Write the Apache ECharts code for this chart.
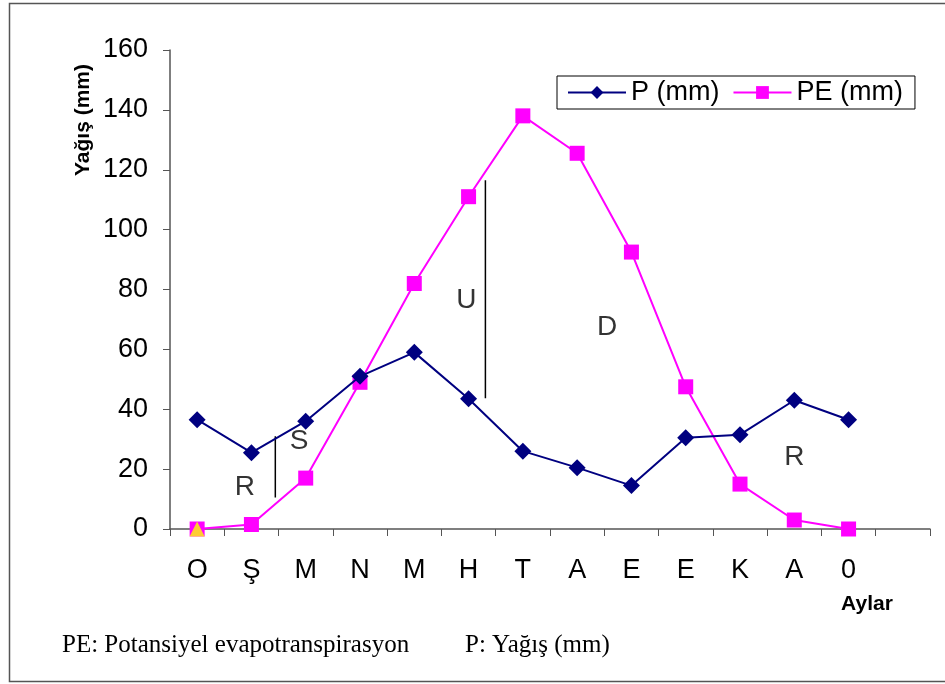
<!DOCTYPE html>
<html>
<head>
<meta charset="utf-8">
<script src="https://cdn.jsdelivr.net/npm/echarts@6/dist/echarts.min.js"></script>
<style>
  html, body { margin: 0; padding: 0; background: #fff; }
  #chart { width: 945px; height: 684px; }
</style>
</head>
<body>
<div id="chart"></div>
<script>
// aylar (son kategori bos)
var months = ['O', 'Ş', 'M', 'N', 'M', 'H', 'T', 'A', 'E', 'E', 'K', 'A', '0', ''];
// yagis P (mm)
var pValues = [36.5, 25.5, 36, 51, 59, 43.5, 26, 20.5, 14.5, 30.5, 31.5, 43, 36.5];
// potansiyel evapotranspirasyon PE (mm)
var peValues = [0, 1.5, 17, 49, 82, 111, 138, 125.5, 92.5, 47.5, 15, 3, 0];
// sari ucgen isareti
var startMark = [0];
// bolge etiketleri: [x indeksi, deger, yazi]
var zoneLabels = [[0.88, 14, 'R'], [1.88, 29.4, 'S'], [4.96, 76.5, 'U'], [7.55, 67.3, 'D'], [11.0, 24, 'R']];
// dikey cizgiler: [x indeksi, ust, alt]
var zoneLines = [[1.44, 31, 10.5], [5.31, 116.5, 43.7]];

var FONT = 'Liberation Sans, Arial';
var myChart = echarts.init(document.getElementById('chart'));

var lineSeries = zoneLines.map(function (l) {
  return {
    type: 'line',
    xAxisIndex: 1,
    data: [[l[0], l[1]], [l[0], l[2]]],
    showSymbol: false,
    silent: true,
    lineStyle: { color: '#000', width: 1.5 },
    z: 1
  };
});

var option = {
  animation: false,
  backgroundColor: '#fff',
  grid: { left: 170, right: 15, top: 50, bottom: 155 },
  legend: {
    data: ['P (mm)', 'PE (mm)'],
    left: 557,
    top: 76,
    itemWidth: 58,
    itemHeight: 16,
    itemGap: 13,
    itemTextGap: 6,
    padding: [3, 12, 3, 10],
    borderColor: '#000',
    borderWidth: 1,
    textStyle: { fontFamily: FONT, fontSize: 27, color: '#000' }
  },
  xAxis: [{
    type: 'category',
    data: months,
    boundaryGap: true,
    axisLine: { lineStyle: { color: '#555', width: 1.5 } },
    axisTick: { show: true, length: 7, alignWithLabel: false, lineStyle: { color: '#555' } },
    axisLabel: { fontFamily: FONT, fontSize: 27, color: '#000', margin: 28, interval: 0 },
    splitLine: { show: false }
  }, {
    type: 'value',
    min: -0.5,
    max: 13.5,
    show: false
  }],
  yAxis: {
    type: 'value',
    min: 0,
    max: 160,
    interval: 20,
    axisLine: { show: true, onZero: false, lineStyle: { color: '#555', width: 1.5 } },
    axisTick: { show: true, length: 7, lineStyle: { color: '#555' } },
    axisLabel: { fontFamily: FONT, fontSize: 27, color: '#000', margin: 22 },
    splitLine: { show: false }
  },
  series: lineSeries.concat([
    {
      name: 'P (mm)',
      type: 'line',
      data: pValues,
      symbol: 'diamond',
      symbolSize: 17,
      color: '#000080',
      lineStyle: { color: '#000080', width: 2 },
      itemStyle: { color: '#000080' },
      z: 3
    },
    {
      name: 'PE (mm)',
      type: 'line',
      data: peValues,
      symbol: 'rect',
      symbolSize: 15,
      color: '#FF00FF',
      lineStyle: { color: '#FF00FF', width: 2 },
      itemStyle: { color: '#FF00FF' },
      z: 2
    },
    {
      type: 'scatter',
      data: startMark,
      symbol: 'triangle',
      symbolSize: 15,
      itemStyle: { color: '#FFFF00' },
      z: 4
    },
    {
      type: 'scatter',
      xAxisIndex: 1,
      data: zoneLabels.map(function (d) { return { value: [d[0], d[1]], name: d[2] }; }),
      symbolSize: 0,
      silent: true,
      label: {
        show: true,
        position: 'inside',
        formatter: '{b}',
        fontFamily: FONT,
        fontSize: 28,
        color: '#000'
      }
    }
  ]),
  graphic: [
    {
      type: 'rect',
      shape: { x: 9.5, y: 3.5, width: 950, height: 678 },
      style: { fill: 'none', stroke: '#555', lineWidth: 1.5 },
      silent: true
    },
    {
      type: 'text',
      x: 83,
      y: 120,
      rotation: Math.PI / 2,
      style: {
        text: 'Yağış (mm)',
        font: 'bold 21px "Liberation Sans", Arial',
        fill: '#000',
        align: 'center',
        verticalAlign: 'middle'
      }
    },
    {
      type: 'text',
      x: 867,
      y: 604,
      style: {
        text: 'Aylar',
        font: 'bold 21px "Liberation Sans", Arial',
        fill: '#000',
        align: 'center',
        verticalAlign: 'middle'
      }
    },
    {
      type: 'text',
      x: 62,
      y: 645,
      style: {
        text: 'PE: Potansiyel evapotranspirasyon',
        font: '25px "Liberation Serif", "Times New Roman", serif',
        fill: '#000',
        verticalAlign: 'middle'
      }
    },
    {
      type: 'text',
      x: 465,
      y: 645,
      style: {
        text: 'P: Yağış (mm)',
        font: '25px "Liberation Serif", "Times New Roman", serif',
        fill: '#000',
        verticalAlign: 'middle'
      }
    }
  ]
};

myChart.setOption(option);
</script>
</body>
</html>
